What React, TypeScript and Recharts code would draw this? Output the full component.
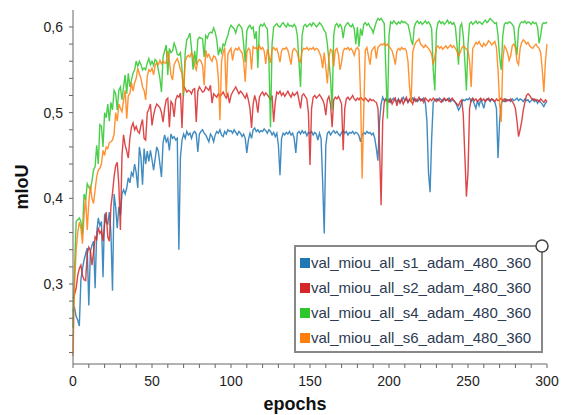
import { LineChart, Line, XAxis, YAxis, Legend, Label } from 'recharts';

// epoch index 0..300
const epochs = Array.from({ length: 301 }, (_, i) => i);

const s1 = [
  0.268, 0.272, 0.262, 0.258, 0.251, 0.305, 0.318, 0.328, 0.335, 0.342,
  0.275, 0.338, 0.345, 0.35, 0.295, 0.36, 0.377, 0.368, 0.373, 0.308,
  0.382, 0.372, 0.37, 0.384, 0.36, 0.292, 0.405, 0.39, 0.365, 0.39,
  0.38, 0.405, 0.41, 0.405, 0.412, 0.424, 0.418, 0.43, 0.426, 0.44,
  0.43, 0.412, 0.46, 0.448, 0.416, 0.458, 0.44, 0.455, 0.443, 0.456,
  0.445, 0.433, 0.446, 0.46, 0.455, 0.44, 0.425, 0.465, 0.474, 0.466,
  0.47, 0.456, 0.475, 0.47, 0.472, 0.468, 0.47, 0.34, 0.448, 0.468,
  0.475, 0.47, 0.478, 0.474, 0.476, 0.47, 0.476, 0.478, 0.475, 0.454,
  0.475, 0.478, 0.48, 0.476, 0.474, 0.47, 0.466, 0.475, 0.472, 0.466,
  0.474, 0.478, 0.476, 0.48, 0.474, 0.472, 0.478, 0.475, 0.48, 0.478,
  0.479, 0.476, 0.48, 0.477, 0.474, 0.478, 0.476, 0.472, 0.475, 0.47,
  0.453, 0.468, 0.476, 0.47, 0.48, 0.482, 0.478, 0.48, 0.477, 0.479,
  0.478, 0.481, 0.479, 0.476, 0.48, 0.478, 0.474, 0.477, 0.472, 0.476,
  0.462, 0.427, 0.47, 0.476, 0.474, 0.477, 0.475, 0.478, 0.474, 0.476,
  0.47, 0.453, 0.476, 0.478, 0.475, 0.479, 0.476, 0.478, 0.473, 0.477,
  0.476, 0.478, 0.474, 0.477, 0.475, 0.468, 0.476, 0.47, 0.42, 0.359,
  0.462, 0.476, 0.478, 0.474, 0.477, 0.479, 0.476, 0.478, 0.475, 0.473,
  0.477, 0.479, 0.476, 0.478, 0.474, 0.477, 0.476, 0.478, 0.475, 0.477,
  0.476, 0.473, 0.466, 0.474, 0.477, 0.475, 0.478, 0.476, 0.477, 0.474,
  0.476, 0.47, 0.458, 0.444, 0.49, 0.51, 0.518, 0.514, 0.516, 0.513,
  0.516, 0.512, 0.515, 0.517, 0.514, 0.513, 0.516, 0.511, 0.515, 0.518,
  0.514, 0.516, 0.512, 0.515, 0.513, 0.517, 0.514, 0.516, 0.513, 0.515,
  0.516, 0.514, 0.517, 0.512, 0.49, 0.43, 0.407, 0.47, 0.512, 0.515,
  0.516, 0.514, 0.517, 0.515, 0.513, 0.516, 0.514, 0.515, 0.517, 0.513,
  0.515, 0.514, 0.512, 0.508, 0.503, 0.506, 0.512, 0.515, 0.514, 0.516,
  0.515, 0.517, 0.513, 0.516, 0.51, 0.505, 0.514, 0.508, 0.515, 0.511,
  0.505, 0.514, 0.516, 0.515, 0.513, 0.516, 0.514, 0.512, 0.505, 0.447,
  0.49, 0.51, 0.514, 0.513, 0.516, 0.514, 0.515, 0.513, 0.516, 0.514,
  0.515, 0.517, 0.514, 0.516, 0.515, 0.513, 0.516, 0.514, 0.515, 0.512,
  0.514, 0.516, 0.513, 0.515, 0.511, 0.514, 0.512, 0.51, 0.507, 0.511,
  0.513,
];

const s2 = [
  0.283, 0.288, 0.295, 0.31, 0.318, 0.322, 0.31, 0.305, 0.304, 0.335,
  0.343, 0.339, 0.322, 0.337, 0.355, 0.352, 0.366, 0.359, 0.362, 0.35,
  0.37, 0.384, 0.355, 0.35, 0.39, 0.406, 0.425, 0.438, 0.442, 0.416,
  0.363, 0.45, 0.474, 0.462, 0.455, 0.447, 0.47, 0.483, 0.488, 0.48,
  0.484, 0.478, 0.476, 0.485, 0.492, 0.47, 0.468, 0.5, 0.504, 0.51,
  0.485, 0.497, 0.505, 0.51, 0.508, 0.506, 0.5, 0.489, 0.505, 0.515,
  0.517, 0.483, 0.513, 0.51, 0.495, 0.515, 0.52, 0.518, 0.523, 0.482,
  0.532, 0.528, 0.524, 0.526, 0.525, 0.522, 0.527, 0.528, 0.489, 0.525,
  0.53, 0.527, 0.524, 0.525, 0.53, 0.528, 0.526, 0.532, 0.511, 0.522,
  0.52, 0.518, 0.522, 0.519, 0.521, 0.524, 0.52, 0.517, 0.522, 0.511,
  0.52, 0.524, 0.527, 0.53, 0.526, 0.522, 0.525, 0.523, 0.52, 0.517,
  0.522, 0.515, 0.505, 0.482, 0.51, 0.52, 0.513, 0.5, 0.518, 0.522,
  0.524, 0.52, 0.523, 0.521, 0.518, 0.515, 0.52, 0.489, 0.512, 0.524,
  0.522, 0.525, 0.52, 0.523, 0.519, 0.522, 0.525, 0.521, 0.518, 0.523,
  0.52, 0.522, 0.524, 0.515, 0.505, 0.52, 0.522, 0.519, 0.516, 0.5,
  0.439, 0.505, 0.518, 0.52, 0.517, 0.519, 0.521, 0.518, 0.515, 0.51,
  0.497, 0.515, 0.519, 0.51, 0.483, 0.515, 0.518, 0.516, 0.519, 0.515,
  0.51, 0.456, 0.505, 0.516, 0.518, 0.515, 0.517, 0.52, 0.516, 0.514,
  0.517, 0.515, 0.518, 0.516, 0.514, 0.517, 0.515, 0.513, 0.516, 0.514,
  0.515, 0.513, 0.512, 0.505, 0.46, 0.392, 0.49, 0.512, 0.516, 0.514,
  0.512, 0.516, 0.51, 0.514, 0.517, 0.508, 0.515, 0.512, 0.516, 0.51,
  0.514, 0.518, 0.512, 0.516, 0.514, 0.51, 0.517, 0.513, 0.515, 0.518,
  0.514, 0.516, 0.512, 0.517, 0.515, 0.513, 0.516, 0.514, 0.517, 0.515,
  0.513, 0.516, 0.514, 0.512, 0.515, 0.517, 0.514, 0.516, 0.513, 0.515,
  0.517, 0.514, 0.512, 0.51, 0.508, 0.513, 0.515, 0.498, 0.45, 0.402,
  0.43, 0.505, 0.515, 0.517, 0.514, 0.516, 0.513, 0.515, 0.517, 0.514,
  0.516, 0.513, 0.515, 0.517, 0.514, 0.516, 0.515, 0.513, 0.516, 0.514,
  0.515, 0.517, 0.514, 0.516, 0.513, 0.515, 0.514, 0.516, 0.513, 0.51,
  0.505, 0.49, 0.472, 0.48, 0.49, 0.503, 0.512, 0.52, 0.522, 0.52,
  0.517, 0.515, 0.516, 0.514, 0.515, 0.513, 0.516, 0.514, 0.512, 0.515,
  0.513,
];

const s4 = [
  0.249, 0.318, 0.373, 0.375, 0.377, 0.373, 0.358, 0.405, 0.398, 0.417,
  0.413, 0.41, 0.42, 0.433, 0.437, 0.462, 0.44, 0.486, 0.484, 0.46,
  0.5, 0.494, 0.51, 0.49, 0.512, 0.503, 0.526, 0.522, 0.503, 0.526,
  0.53, 0.515, 0.53, 0.544, 0.522, 0.546, 0.53, 0.538, 0.546, 0.55,
  0.56, 0.554, 0.56, 0.556, 0.55, 0.552, 0.55, 0.558, 0.563, 0.556,
  0.56, 0.555, 0.562, 0.56, 0.55, 0.54, 0.524, 0.565, 0.572, 0.579,
  0.544, 0.575, 0.57, 0.572, 0.581, 0.576, 0.568, 0.567, 0.57, 0.55,
  0.52, 0.57, 0.585, 0.588, 0.593, 0.575, 0.55, 0.572, 0.556, 0.585,
  0.588, 0.587, 0.586, 0.565, 0.59, 0.587, 0.592, 0.594, 0.593, 0.599,
  0.594, 0.585, 0.567, 0.575, 0.57, 0.58, 0.578, 0.585, 0.59, 0.598,
  0.602, 0.6, 0.598, 0.593, 0.6, 0.603, 0.601, 0.598, 0.58, 0.559,
  0.595, 0.6, 0.602, 0.598, 0.6, 0.586, 0.595, 0.552, 0.6, 0.603,
  0.601, 0.604, 0.6, 0.598, 0.56, 0.483, 0.58, 0.6, 0.602, 0.604,
  0.601, 0.6, 0.603, 0.605, 0.602, 0.6, 0.604, 0.601, 0.602, 0.6,
  0.603, 0.6, 0.59, 0.56, 0.53, 0.59, 0.601, 0.603, 0.6, 0.602,
  0.604, 0.601, 0.605, 0.603, 0.6, 0.602, 0.605, 0.603, 0.6, 0.596,
  0.593, 0.58, 0.56, 0.54, 0.503, 0.59, 0.602, 0.604, 0.6, 0.603,
  0.6, 0.587, 0.6, 0.603, 0.605, 0.602, 0.6, 0.603, 0.598, 0.58,
  0.6, 0.577, 0.598, 0.59, 0.603, 0.605, 0.602, 0.604, 0.6, 0.598,
  0.593, 0.6, 0.606, 0.61, 0.608, 0.61, 0.607, 0.604, 0.55, 0.493,
  0.59, 0.606, 0.604, 0.607, 0.605, 0.603, 0.606, 0.604, 0.607, 0.605,
  0.606, 0.604, 0.603, 0.595, 0.585, 0.579, 0.6, 0.605, 0.607, 0.604,
  0.606, 0.603, 0.605, 0.607, 0.604, 0.606, 0.603, 0.598, 0.55, 0.526,
  0.595, 0.605, 0.607, 0.604, 0.606, 0.603, 0.605, 0.608, 0.604, 0.606,
  0.603, 0.605, 0.6, 0.58, 0.556, 0.6, 0.604, 0.59, 0.56, 0.526,
  0.58, 0.604, 0.606, 0.603, 0.605, 0.607, 0.604, 0.606, 0.605, 0.603,
  0.606, 0.608, 0.605, 0.607, 0.61, 0.608, 0.606, 0.604, 0.605, 0.59,
  0.565, 0.55, 0.59, 0.603, 0.605, 0.604, 0.606, 0.605, 0.603, 0.6,
  0.58, 0.567, 0.598, 0.604, 0.606, 0.605, 0.607, 0.604, 0.606, 0.605,
  0.603, 0.606, 0.604, 0.605, 0.6, 0.581, 0.59, 0.603, 0.605, 0.604,
  0.606,
];

const s6 = [
  0.216, 0.3, 0.34, 0.36, 0.372, 0.365, 0.347, 0.38, 0.4, 0.363,
  0.395, 0.415, 0.4, 0.394, 0.41, 0.425, 0.433, 0.435, 0.44, 0.456,
  0.45, 0.46, 0.458, 0.465, 0.466, 0.468, 0.475, 0.5, 0.49, 0.51,
  0.505, 0.501, 0.515, 0.526, 0.493, 0.52, 0.522, 0.535, 0.525, 0.535,
  0.54, 0.552, 0.545, 0.54, 0.53, 0.526, 0.515, 0.542, 0.55, 0.548,
  0.552, 0.544, 0.555, 0.558, 0.556, 0.561, 0.557, 0.56, 0.558, 0.558,
  0.572, 0.56, 0.544, 0.538, 0.556, 0.56, 0.563, 0.558, 0.55, 0.546,
  0.523, 0.56, 0.565, 0.567, 0.565, 0.57, 0.566, 0.555, 0.55, 0.56,
  0.562, 0.56, 0.555, 0.532, 0.573, 0.565, 0.568, 0.563, 0.56, 0.566,
  0.565, 0.56, 0.54, 0.491, 0.56, 0.57, 0.576, 0.52, 0.568, 0.572,
  0.575, 0.561, 0.572, 0.575, 0.573, 0.576, 0.572, 0.57, 0.56, 0.536,
  0.57, 0.575, 0.573, 0.55, 0.577, 0.575, 0.576, 0.573, 0.578, 0.574,
  0.576, 0.572, 0.557, 0.574, 0.566, 0.558, 0.574, 0.576, 0.573, 0.575,
  0.568, 0.559, 0.572, 0.575, 0.574, 0.576, 0.573, 0.565, 0.556, 0.572,
  0.575, 0.573, 0.57, 0.561, 0.559, 0.572, 0.575, 0.574, 0.576, 0.573,
  0.575, 0.574, 0.576, 0.573, 0.575, 0.574, 0.57, 0.565, 0.552, 0.57,
  0.553, 0.534, 0.565, 0.574, 0.572, 0.554, 0.573, 0.575, 0.568, 0.55,
  0.559, 0.572, 0.575, 0.574, 0.576, 0.573, 0.575, 0.572, 0.567, 0.574,
  0.576, 0.573, 0.52, 0.423, 0.5, 0.573, 0.576, 0.566, 0.556, 0.572,
  0.575, 0.577, 0.563, 0.576, 0.578, 0.58, 0.579, 0.581, 0.578, 0.58,
  0.577, 0.575, 0.572, 0.565, 0.556, 0.572, 0.575, 0.573, 0.576, 0.574,
  0.575, 0.572, 0.56, 0.53, 0.512, 0.57, 0.578, 0.582, 0.584, 0.586,
  0.58, 0.578, 0.576, 0.579, 0.577, 0.575, 0.572, 0.568, 0.556, 0.565,
  0.576, 0.578, 0.575, 0.577, 0.574, 0.576, 0.578, 0.575, 0.577, 0.579,
  0.576, 0.578, 0.575, 0.572, 0.566, 0.57, 0.575, 0.578, 0.576, 0.574,
  0.572, 0.56, 0.53, 0.575, 0.578, 0.582, 0.58, 0.583, 0.579, 0.577,
  0.581, 0.578, 0.58, 0.584, 0.582, 0.579, 0.581, 0.583, 0.576, 0.55,
  0.51, 0.489, 0.56, 0.578, 0.575, 0.57, 0.561, 0.566, 0.578, 0.58,
  0.576, 0.56, 0.556, 0.575, 0.582, 0.585, 0.583, 0.58, 0.582, 0.578,
  0.576, 0.575, 0.578, 0.58, 0.577, 0.575, 0.57, 0.55, 0.524, 0.56,
  0.58,
];

const seriesNames = [
  'val_miou_all_s1_adam_480_360',
  'val_miou_all_s2_adam_480_360',
  'val_miou_all_s4_adam_480_360',
  'val_miou_all_s6_adam_480_360',
];
const seriesColors = ['#1f77b4', '#d62728', '#2cc72c', '#ff7f0e'];

const xTicks = [0, 10, 20, 30, 40, 50, 60, 70, 80, 90, 100, 110, 120, 130, 140, 150, 160, 170, 180, 190, 200, 210, 220, 230, 240, 250, 260, 270, 280, 290, 300];
const yTicks = [0.22, 0.24, 0.26, 0.28, 0.3, 0.32, 0.34, 0.36, 0.38, 0.4, 0.42, 0.44, 0.46, 0.48, 0.5, 0.52, 0.54, 0.56, 0.58, 0.6];

const data = epochs.map((e, i) => ({ epoch: e, s1: s1[i], s2: s2[i], s4: s4[i], s6: s6[i] }));
const keys = ['s1', 's2', 's4', 's6'];

const FONT = '"Liberation Sans", Arial, sans-serif';
const AXIS = '#666';

const YTick = (props: any) => {
    const { x, y, payload } = props;
    const v = payload.value;
    const major = Math.abs(v * 10 - Math.round(v * 10)) < 1e-6;
    if (!major) return <g />;
    return (
        <text x={x - 4} y={y} dy={5} textAnchor="end" fontSize={14} fontFamily={FONT} fill="#222">
            {v.toFixed(1).replace('.', ',')}
        </text>
    );
};

const XTick = (props: any) => {
    const { x, y, payload } = props;
    if (payload.value % 50 !== 0) return <g />;
    return (
        <text x={x} y={y} dy={16} textAnchor="middle" fontSize={14} fontFamily={FONT} fill="#222">
            {payload.value}
        </text>
    );
};

const LegendBox = () => (
    <div style={{ position: 'relative', width: 249, height: 108, boxSizing: 'border-box', border: '2px solid #888', background: '#fff', paddingTop: 3, fontFamily: FONT, fontSize: 15, color: '#2c3a52' }}>
        {seriesNames.map((n, i) => (
            <div key={n} style={{ display: 'flex', alignItems: 'center', height: 25, paddingLeft: 4 }}>
                <span style={{ display: 'inline-block', width: 10, height: 10, background: seriesColors[i], marginRight: 1 }} />
                <span>{n}</span>
            </div>
        ))}
        <svg width={16} height={16} style={{ position: 'absolute', right: -9, top: -9 }}>
            <circle cx={8} cy={8} r={6} fill="#fff" stroke="#444" strokeWidth={1.5} />
        </svg>
    </div>
);

export default function App() {
    return (
        <div>
            <style>{'body{margin:0;background:#fff}'}</style>
            <LineChart width={567} height={415} data={data} margin={{ top: 10, right: 20, bottom: 21, left: 0 }}>
                <XAxis
                    dataKey="epoch"
                    type="number"
                    domain={[0, 300]}
                    ticks={xTicks}
                    interval={0}
                    height={30}
                    tickSize={4}
                    tick={<XTick />}
                    stroke={AXIS}
                >
                    <Label
                        content={(p: any) => (
                            <text x={p.viewBox.x + p.viewBox.width / 2 - 15} y={p.viewBox.y + 46} textAnchor="middle" fontSize={18} fontWeight="bold" fontFamily={FONT} fill="#111">
                                epochs
                            </text>
                        )}
                    />
                </XAxis>
                <YAxis
                    type="number"
                    domain={[0.2066, 0.6198]}
                    allowDataOverflow
                    ticks={yTicks}
                    interval={0}
                    width={73}
                    tickSize={4}
                    tick={<YTick />}
                    stroke={AXIS}
                >
                    <Label
                        content={(p: any) => (
                            <text x={22} y={p.viewBox.y + p.viewBox.height / 2} transform={`rotate(-90 22 ${p.viewBox.y + p.viewBox.height / 2})`} textAnchor="middle" dominantBaseline="central" fontSize={18} fontWeight="bold" fontFamily={FONT} fill="#111">
                                mIoU
                            </text>
                        )}
                    />
                </YAxis>
                {keys.map((k, i) => (
                    <Line
                        key={k}
                        dataKey={k}
                        name={seriesNames[i]}
                        stroke={seriesColors[i]}
                        strokeWidth={1.4}
                        strokeOpacity={0.85}
                        dot={false}
                        type="linear"
                        isAnimationActive={false}
                    />
                ))}
                <Legend
                    layout="vertical"
                    align="center"
                    verticalAlign="middle"
                    content={<LegendBox />}
                    wrapperStyle={{ left: 294, top: 245, width: 249, height: 108 }}
                />
            </LineChart>
        </div>
    );
}
